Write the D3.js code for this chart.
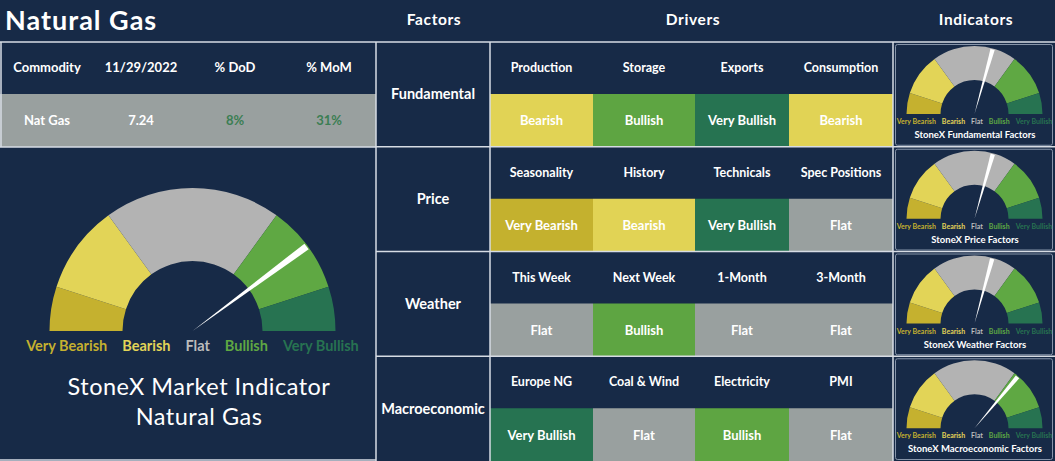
<!DOCTYPE html>
<html>
<head>
<meta charset="utf-8">
<script src="https://cdn.jsdelivr.net/npm/d3@7"></script>
<style>
  html, body { margin: 0; padding: 0; background: #172a47; }
  svg { display: block; font-family: "Lato", "Open Sans", sans-serif; }
</style>
</head>
<body>
<svg id="board"></svg>
<script>
// data
const commodityHeaders = ["Commodity", "11/29/2022", "% DoD", "% MoM"];
const commodityValues = ["Nat Gas", "7.24", "8%", "31%"];
const factors = ["Fundamental", "Price", "Weather", "Macroeconomic"];
const drivers = [
    ["Production", "Storage", "Exports", "Consumption"],
    ["Seasonality", "History", "Technicals", "Spec Positions"],
    ["This Week", "Next Week", "1-Month", "3-Month"],
    ["Europe NG", "Coal & Wind", "Electricity", "PMI"]
];
const driverSignals = [
    ["Bearish", "Bullish", "Very Bullish", "Bearish"],
    ["Very Bearish", "Bearish", "Very Bullish", "Flat"],
    ["Flat", "Bullish", "Flat", "Flat"],
    ["Very Bullish", "Flat", "Bullish", "Flat"]
];
const signalLevels = ["Very Bearish", "Bearish", "Flat", "Bullish", "Very Bullish"];
const levelWeights = [1, 2, 4, 2, 1];
// needle readings on a 0-10 scale
const marketReading = 7.97;
const factorReadings = [5.87, 5.88, 5.85, 7.22];
const indicatorTitles = ["StoneX Fundamental Factors", "StoneX Price Factors",
    "StoneX Weather Factors", "StoneX Macroeconomic Factors"];

const width = 1055;
const height = 461;
const navy = "#172a47";
const lineColor = "#d7dce4";

const cellColor = {
    "Very Bearish": "#c4b12e",
    "Bearish": "#e1d355",
    "Flat": "#99a09f",
    "Bullish": "#5ea542",
    "Very Bullish": "#267351"
};
const gaugeColor = {
    "Very Bearish": "#c5b12f",
    "Bearish": "#e2d457",
    "Flat": "#b3b3b3",
    "Bullish": "#5fa843",
    "Very Bullish": "#277351"
};
const labelColor = {
    "Very Bearish": "#c5b12f",
    "Bearish": "#e2d457",
    "Flat": "#bcbcbc",
    "Bullish": "#5fa843",
    "Very Bullish": "#277351"
};

const svg = d3.select("#board")
    .attr("width", width)
    .attr("height", height);

svg.append("rect")
    .attr("width", width)
    .attr("height", height)
    .attr("fill", navy);

// title + column headers
svg.append("text")
    .attr("x", 5).attr("y", 30)
    .attr("fill", "#fff")
    .attr("font-size", 27).attr("font-weight", 700)
    .attr("letter-spacing", 1)
    .text("Natural Gas");

const headerRow = [["Factors", 434], ["Drivers", 693], ["Indicators", 976]];
svg.selectAll(".col-head")
    .data(headerRow)
    .enter().append("text")
    .attr("class", "col-head")
    .attr("x", d => d[1]).attr("y", 25)
    .attr("text-anchor", "middle")
    .attr("fill", "#fff")
    .attr("font-size", 15.5).attr("font-weight", 700)
    .attr("letter-spacing", 0.6)
    .text(d => d[0]);

// commodity table (top left)
const commX = d3.scaleBand().domain(d3.range(4)).range([0, 376]);
svg.append("rect")
    .attr("x", 0).attr("y", 94)
    .attr("width", 376).attr("height", 53)
    .attr("fill", cellColor["Flat"]);

svg.selectAll(".comm-head")
    .data(commodityHeaders)
    .enter().append("text")
    .attr("x", (d, i) => commX(i) + commX.bandwidth() / 2)
    .attr("y", 72)
    .attr("text-anchor", "middle")
    .attr("fill", "#fff")
    .attr("font-size", 13).attr("font-weight", 700)
    .text(d => d);

svg.selectAll(".comm-val")
    .data(commodityValues)
    .enter().append("text")
    .attr("x", (d, i) => commX(i) + commX.bandwidth() / 2)
    .attr("y", 125)
    .attr("text-anchor", "middle")
    .attr("fill", (d, i) => i >= 2 ? "#3b7e53" : "#fff")
    .attr("font-size", 13).attr("font-weight", 700)
    .text(d => d);

// factor rows
const rowY = d3.scaleBand().domain(factors).range([42, 461]);
const colX = d3.scaleLinear().domain([0, 1, 2, 3, 4]).range([490, 593, 695, 789, 893]);
const headH = 52;

factors.forEach((factor, r) => {
    const top = rowY(factor);
    const band = rowY.bandwidth();

    svg.append("text")
        .attr("x", 433).attr("y", top + band / 2 + 5)
        .attr("text-anchor", "middle")
        .attr("fill", "#fff")
        .attr("font-size", 14.5).attr("font-weight", 700)
        .text(factor);

    const cells = svg.append("g").selectAll("g")
        .data(drivers[r].map((name, i) => ({ name, signal: driverSignals[r][i], i })))
        .enter().append("g");

    cells.append("rect")
        .attr("x", d => colX(d.i))
        .attr("y", top + headH)
        .attr("width", d => colX(d.i + 1) - colX(d.i))
        .attr("height", band - headH)
        .attr("fill", d => cellColor[d.signal]);

    cells.append("text")
        .attr("x", d => (colX(d.i) + colX(d.i + 1)) / 2)
        .attr("y", top + 30)
        .attr("text-anchor", "middle")
        .attr("fill", "#fff")
        .attr("font-size", 12.5).attr("font-weight", 700)
        .text(d => d.name);

    cells.append("text")
        .attr("x", d => (colX(d.i) + colX(d.i + 1)) / 2)
        .attr("y", top + headH + (band - headH) / 2 + 5)
        .attr("text-anchor", "middle")
        .attr("fill", "#fff")
        .attr("font-size", 13).attr("font-weight", 700)
        .text(d => d.signal);
});

// grid lines
const gridLines = [
    [0, 42, width, 42],
    [0, 147, 376, 147],
    [1, 42, 1, 147],
    [376, 42, 376, 461],
    [490, 42, 490, 461],
    [893, 42, 893, 461],
    [0, 460, 376, 460]
];
factors.slice(1).forEach(f => gridLines.push([376, rowY(f), width, rowY(f)]));

svg.selectAll(".grid")
    .data(gridLines)
    .enter().append("line")
    .attr("x1", d => d[0]).attr("y1", d => d[1])
    .attr("x2", d => d[2]).attr("y2", d => d[3])
    .attr("stroke", lineColor)
    .attr("stroke-width", 1.5);

// gauges
const needleScale = d3.scaleLinear().domain([0, 10]).range([-Math.PI / 2, Math.PI / 2]);
const pie = d3.pie()
    .sort(null)
    .value(d => d.w)
    .startAngle(-Math.PI / 2)
    .endAngle(Math.PI / 2);

function drawGauge(g, cx, cy, rOut, rIn, reading, opts) {
    const arc = d3.arc().innerRadius(rIn).outerRadius(rOut);
    const gauge = g.append("g").attr("transform", `translate(${cx},${cy})`);

    gauge.selectAll("path.seg")
        .data(pie(signalLevels.map((s, i) => ({ s, w: levelWeights[i] }))))
        .enter().append("path")
        .attr("class", "seg")
        .attr("d", arc)
        .attr("fill", d => gaugeColor[d.data.s]);

    const a = needleScale(reading);
    gauge.append("path")
        .attr("d", d3.arc()
            .innerRadius(0)
            .outerRadius(rOut - 1)
            .startAngle(a - opts.needleHalf)
            .endAngle(a + opts.needleHalf)())
        .attr("fill", "#fff");

    // labels laid out in a row, centred on the gauge
    const labels = g.append("g");
    const texts = labels.selectAll("text")
        .data(signalLevels)
        .enter().append("text")
        .attr("y", cy + opts.labelDy)
        .attr("fill", d => labelColor[d])
        .attr("font-size", opts.labelSize)
        .attr("font-weight", 700)
        .text(d => d);

    const widths = [];
    texts.each(function () { widths.push(this.getComputedTextLength()); });
    const total = d3.sum(widths) + opts.labelGap * (widths.length - 1);
    let x = cx - total / 2;
    texts.attr("x", (d, i) => {
        const left = x;
        x += widths[i] + opts.labelGap;
        return left;
    });
}

// main market indicator
drawGauge(svg, 192.5, 331, 143, 70, marketReading,
    { needleHalf: 0.025, labelSize: 14.5, labelGap: 15, labelDy: 20 });

svg.append("text")
    .attr("x", 199).attr("y", 395)
    .attr("text-anchor", "middle")
    .attr("fill", "#fff")
    .attr("font-size", 23.5)
    .attr("letter-spacing", 0.5)
    .text("StoneX Market Indicator");
svg.append("text")
    .attr("x", 199).attr("y", 425)
    .attr("text-anchor", "middle")
    .attr("fill", "#fff")
    .attr("font-size", 23.5)
    .attr("letter-spacing", 0.5)
    .text("Natural Gas");

// factor indicators
factors.forEach((factor, r) => {
    const top = rowY(factor);
    const g = svg.append("g");
    g.append("rect")
        .attr("x", 895.5).attr("y", top + 2.5)
        .attr("width", 157).attr("height", rowY.bandwidth() - 4)
        .attr("rx", 2)
        .attr("fill", navy)
        .attr("stroke", "#8795aa")
        .attr("stroke-width", 1);

    drawGauge(g, 974.5, top + 72, 68, 34, factorReadings[r],
        { needleHalf: 0.033, labelSize: 7, labelGap: 6, labelDy: 10 });

    g.append("text")
        .attr("x", 975).attr("y", top + 96)
        .attr("text-anchor", "middle")
        .attr("fill", "#fff")
        .attr("font-size", 9.5).attr("font-weight", 700)
        .text(indicatorTitles[r]);
});
</script>
</body>
</html>
